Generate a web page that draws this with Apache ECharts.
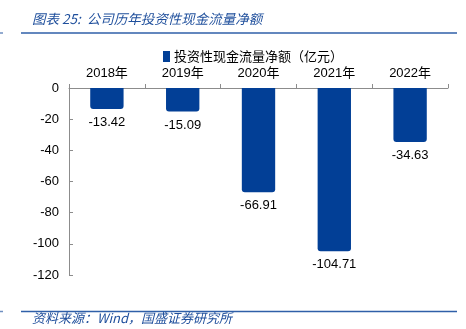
<!DOCTYPE html>
<html><head><meta charset="utf-8">
<script src="https://cdn.jsdelivr.net/npm/echarts@6/dist/echarts.min.js"></script>
<style>html,body{margin:0;padding:0;background:#fff}#c{width:466px;height:329px}</style>
</head><body><div id="c"></div>
<script>
var categories = ['2018年','2019年','2020年','2021年','2022年'];
var values = [-13.42, -15.09, -66.91, -104.71, -34.63];
var yTicks = [0, -20, -40, -60, -80, -100, -120];
var seriesName = '投资性现金流量净额（亿元）';
var titleText = '图表 25:  公司历年投资性现金流量净额';
var sourceText = '资料来源：Wind，国盛证券研究所';

var chart = echarts.init(document.getElementById('c'), null, {renderer:'canvas'});
var cjk = '"Noto Sans CJK SC", "Liberation Sans", sans-serif';
var num = '"Liberation Sans", "Noto Sans CJK SC", sans-serif';
chart.setOption({
  animation: false,
  grid: {left: 69, right: 18, top: 88, bottom: 54, containLabel: false},
  legend: {
    top: 45, left: 158,
    itemWidth: 7, itemHeight: 11, itemGap: 4,
    icon: 'rect',
    textStyle: {fontFamily: cjk, fontSize: 13, color: '#000', padding:[0,0,0,-1]},
    data: [seriesName]
  },
  xAxis: {
    type: 'category', position: 'top', data: categories,
    axisLine: {onZero: false, lineStyle: {color: '#8c8c8c', width: 1}},
    axisTick: {show: true, inside: false, length: 4, lineStyle: {color: '#8c8c8c'}},
    axisLabel: {fontFamily: num, fontSize: 13, color: '#000', margin: 8}
  },
  yAxis: {
    type: 'value', min: -120, max: 0, interval: 20,
    axisLine: {show: true, lineStyle: {color: '#8c8c8c'}},
    axisTick: {show: true, inside: true, length: 4, lineStyle: {color: '#8c8c8c'}},
    splitLine: {show: false},
    axisLabel: {fontFamily: num, fontSize: 13, color: '#000', margin: 10,
      formatter: function(v){ return yTicks.indexOf(v) >= 0 ? String(v) : ''; }}
  },
  series: [{
    name: seriesName, type: 'bar', data: values, barWidth: '44%',
    itemStyle: {color: '#023f96', borderRadius: [0,0,3,3]},
    label: {show: true, position: 'bottom', distance: 7, fontFamily: num, fontSize: 13, color: '#000',
      formatter: function(p){ return p.value.toFixed(2); }}
  }],
  graphic: [
    {type:'text', left: 32, top: 12, style:{text: titleText, font: 'italic 13.5px ' + cjk, fill: '#1f4f9c'}},
    {type:'line', shape:{x1:21, y1:33, x2:457, y2:33}, style:{stroke:'#2f5fa8', lineWidth:1.5}},
    {type:'line', shape:{x1:0, y1:33, x2:3, y2:33}, style:{stroke:'#6f8fc0', lineWidth:1.5}},
    {type:'line', shape:{x1:21, y1:311.5, x2:457, y2:311.5}, style:{stroke:'#2f5fa8', lineWidth:1.5}},
    {type:'line', shape:{x1:0, y1:311.5, x2:3, y2:311.5}, style:{stroke:'#6f8fc0', lineWidth:1.5}},
    {type:'text', left: 32, top: 312, style:{text: sourceText, font: 'italic 13px ' + cjk, fill: '#1f4f9c'}}
  ]
});
</script></body></html>
